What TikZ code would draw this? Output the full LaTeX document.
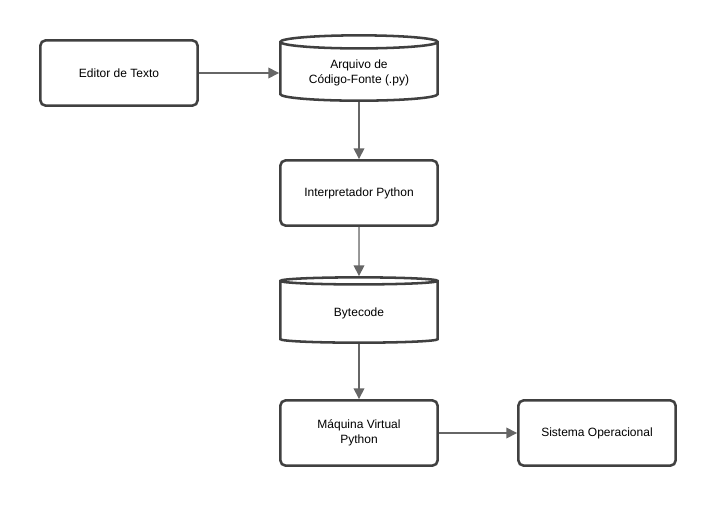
\documentclass[tikz,border=0pt]{standalone}
\usepackage{fontspec}
\setmainfont{Liberation Sans}
\usetikzlibrary{shapes.geometric,arrows.meta}
\tikzset{
  box/.style={draw=black!75, line width=1.9pt, rounded corners=4pt, minimum width=118pt, minimum height=49pt, align=center, font=\fontsize{9}{11}\selectfont},
  store/.style={draw=black!75, line width=1.9pt, cylinder, shape border rotate=90, aspect=0.12, minimum width=118pt, minimum height=49pt, align=center, font=\fontsize{9}{11}\selectfont},
  flow/.style={-{Triangle[length=8pt,width=8pt]}, draw=black!60, fill=black!60, line width=1pt}
}
\begin{document}
\begin{tikzpicture}[x=0.75pt,y=-0.75pt]
\useasboundingbox (0,0) rectangle (717,507);

%% nodes
\node[box] (editor) at (119,73) {Editor de Texto};
\node[store] (fonte) at (359,73) {Arquivo de\\Código-Fonte (.py)};
\node[box] (interp) at (359,193) {Interpretador Python};
\node[store] (bytecode) at (359,313) {Bytecode};
\node[box] (vm) at (359,433) {Máquina Virtual\\Python};
\node[box] (so) at (597,433) {Sistema Operacional};

%% edges
\draw[flow] (editor) -- (fonte);
\draw[flow] (fonte) -- (interp);
\draw[flow] (interp) -- (bytecode);
\draw[flow] (bytecode) -- (vm);
\draw[flow] (vm) -- (so);
\end{tikzpicture}
\end{document}
